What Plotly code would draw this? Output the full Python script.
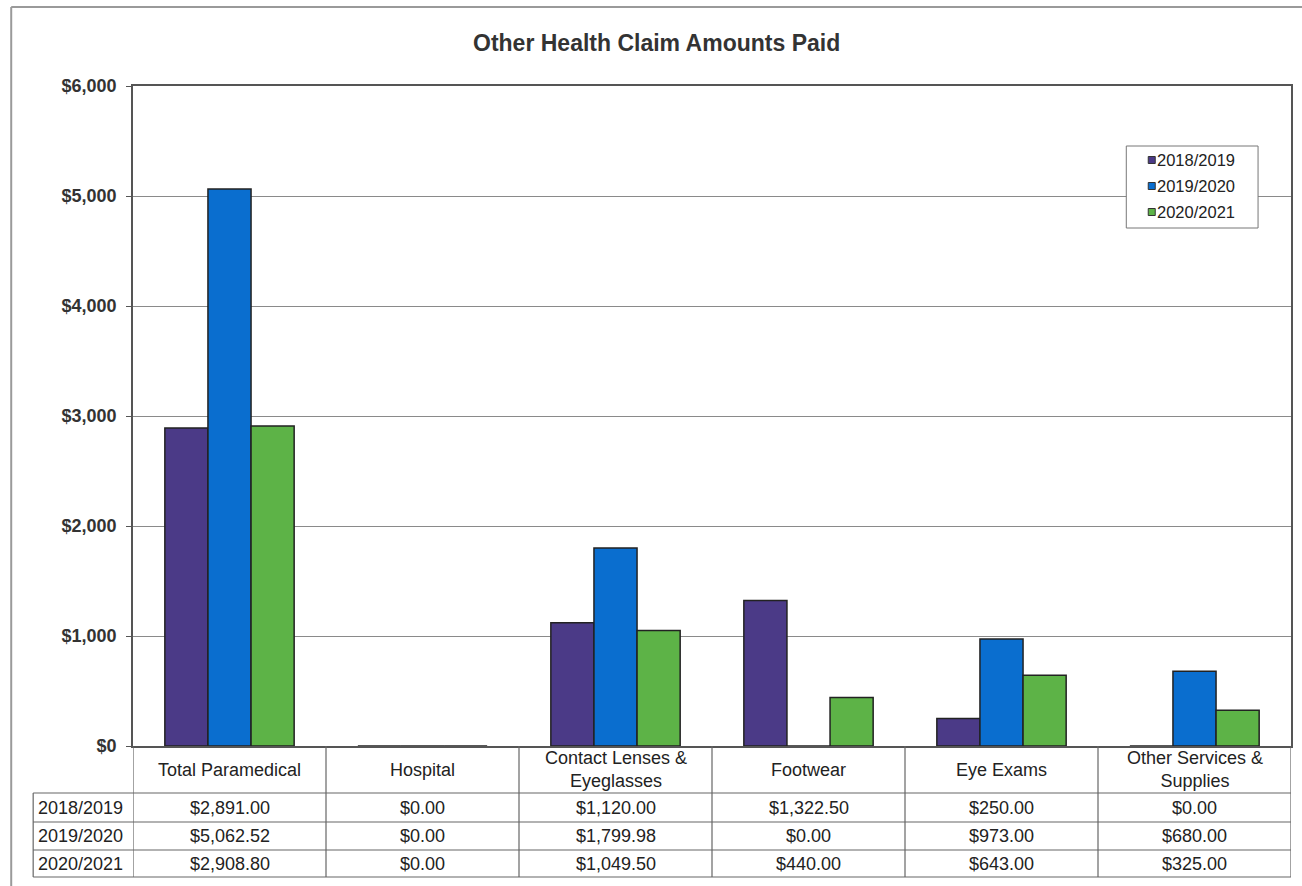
import plotly.graph_objects as go

# Claim categories and yearly amounts paid
categories = ["Total Paramedical", "Hospital", "Contact Lenses &<br>Eyeglasses",
              "Footwear", "Eye Exams", "Other Services &<br>Supplies"]
years = ["2018/2019", "2019/2020", "2020/2021"]
paid_2018_2019 = [2891.00, 0.00, 1120.00, 1322.50, 250.00, 0.00]
paid_2019_2020 = [5062.52, 0.00, 1799.98, 0.00, 973.00, 680.00]
paid_2020_2021 = [2908.80, 0.00, 1049.50, 440.00, 643.00, 325.00]
y_ticks = [0, 1000, 2000, 3000, 4000, 5000, 6000]

series = [paid_2018_2019, paid_2019_2020, paid_2020_2021]
colors = ["#4B3A87", "#0A6ECF", "#5DB347"]

FONT = "Arial, Liberation Sans, sans-serif"
W, H = 1302, 886
ML, MR, MT, MB = 133, 9, 86, 140
PW, PH = W - ML - MR, H - MT - MB


def px_x(x):
    return (x - ML) / PW


def px_y(y):
    return (H - MB - y) / PH


fig = go.Figure()
idx = list(range(len(categories)))
for name, vals, col in zip(years, series, colors):
    fig.add_trace(go.Bar(
        x=idx, y=vals, name=name,
        marker=dict(color=col, line=dict(color="#222222", width=1.5)),
        showlegend=False,
    ))

shapes = []
annotations = []
line_col = "#666666"

# data table under the plot: rows and column boundaries
row_edges = [746, 793, 822, 850, 877]
tbl_left = 33
for y in row_edges[1:]:
    shapes.append(dict(type="line", xref="paper", yref="paper",
                       x0=px_x(tbl_left), x1=1, y0=px_y(y), y1=px_y(y),
                       line=dict(color=line_col, width=1.2)))
for i in range(len(categories) + 1):
    shapes.append(dict(type="line", xref="x", yref="paper",
                       x0=i - 0.5, x1=i - 0.5, y0=0, y1=px_y(row_edges[-1]),
                       line=dict(color=line_col, width=1.2)))
shapes.append(dict(type="line", xref="paper", yref="paper",
                   x0=px_x(tbl_left), x1=px_x(tbl_left),
                   y0=px_y(row_edges[1]), y1=px_y(row_edges[-1]),
                   line=dict(color=line_col, width=1.2)))

# outer frame of the chart
shapes.append(dict(type="line", xref="paper", yref="paper",
                   x0=px_x(11), x1=px_x(11), y0=px_y(7), y1=px_y(H + 5),
                   line=dict(color="#9a9a9a", width=2)))
shapes.append(dict(type="line", xref="paper", yref="paper",
                   x0=px_x(11), x1=px_x(W + 5), y0=px_y(7), y1=px_y(7),
                   line=dict(color="#9a9a9a", width=2)))

table_font = dict(family=FONT, size=18, color="#222222")
header_mid = (row_edges[0] + row_edges[1]) / 2
for i, cat in enumerate(categories):
    annotations.append(dict(xref="x", yref="paper", x=i, y=px_y(header_mid),
                            text=cat, showarrow=False, font=table_font,
                            xanchor="center", yanchor="middle"))
for r, (name, vals) in enumerate(zip(years, series)):
    mid = (row_edges[r + 1] + row_edges[r + 2]) / 2
    annotations.append(dict(xref="paper", yref="paper", x=px_x(tbl_left + 3), y=px_y(mid),
                            text=name, showarrow=False, font=table_font,
                            xanchor="left", yanchor="middle"))
    for i, v in enumerate(vals):
        annotations.append(dict(xref="x", yref="paper", x=i, y=px_y(mid),
                                text=f"${v:,.2f}", showarrow=False, font=table_font,
                                xanchor="center", yanchor="middle"))

# legend box
lx0, lx1, ly0, ly1 = 1128, 1260, 146, 228
shapes.append(dict(type="rect", xref="paper", yref="paper",
                   x0=px_x(lx0), x1=px_x(lx1), y0=px_y(ly0), y1=px_y(ly1),
                   line=dict(color="#777777", width=1), fillcolor="white"))
for k, (name, col) in enumerate(zip(years, colors)):
    cy = 160 + k * 26
    shapes.append(dict(type="rect", xref="paper", yref="paper",
                       x0=px_x(1150), x1=px_x(1157), y0=px_y(cy - 3.5), y1=px_y(cy + 3.5),
                       line=dict(color="#333333", width=1), fillcolor=col))
    annotations.append(dict(xref="paper", yref="paper", x=px_x(1157), y=px_y(cy),
                            text=name, showarrow=False,
                            font=dict(family=FONT, size=16.5, color="#222222"),
                            xanchor="left", yanchor="middle"))

# title
annotations.append(dict(xref="paper", yref="paper", x=px_x(657), y=px_y(43),
                        text="<b>Other Health Claim Amounts Paid</b>", showarrow=False,
                        font=dict(family=FONT, size=23, color="#333333"),
                        xanchor="center", yanchor="middle"))

fig.update_layout(
    width=W, height=H,
    margin=dict(l=ML, r=MR, t=MT, b=MB),
    paper_bgcolor="white", plot_bgcolor="white",
    barmode="group", bargap=0.33, bargroupgap=0,
    shapes=shapes, annotations=annotations,
    showlegend=False,
    xaxis=dict(range=[-0.5, len(categories) - 0.5], showticklabels=False,
               showgrid=False, zeroline=False, showline=True, mirror=True,
               linecolor="#555555", linewidth=1.5, ticks=""),
    yaxis=dict(range=[0, 6000], tickvals=y_ticks,
               ticktext=[f"<b>${v:,}</b>" for v in y_ticks],
               tickfont=dict(family=FONT, size=18, color="#333333"),
               showgrid=True, gridcolor="#8a8a8a", gridwidth=1,
               zeroline=False, showline=True, mirror=True,
               linecolor="#555555", linewidth=1.5,
               ticks="outside", ticklen=5, tickcolor="#555555",
               ticklabelstandoff=6),
)

fig.write_html("out.html")
